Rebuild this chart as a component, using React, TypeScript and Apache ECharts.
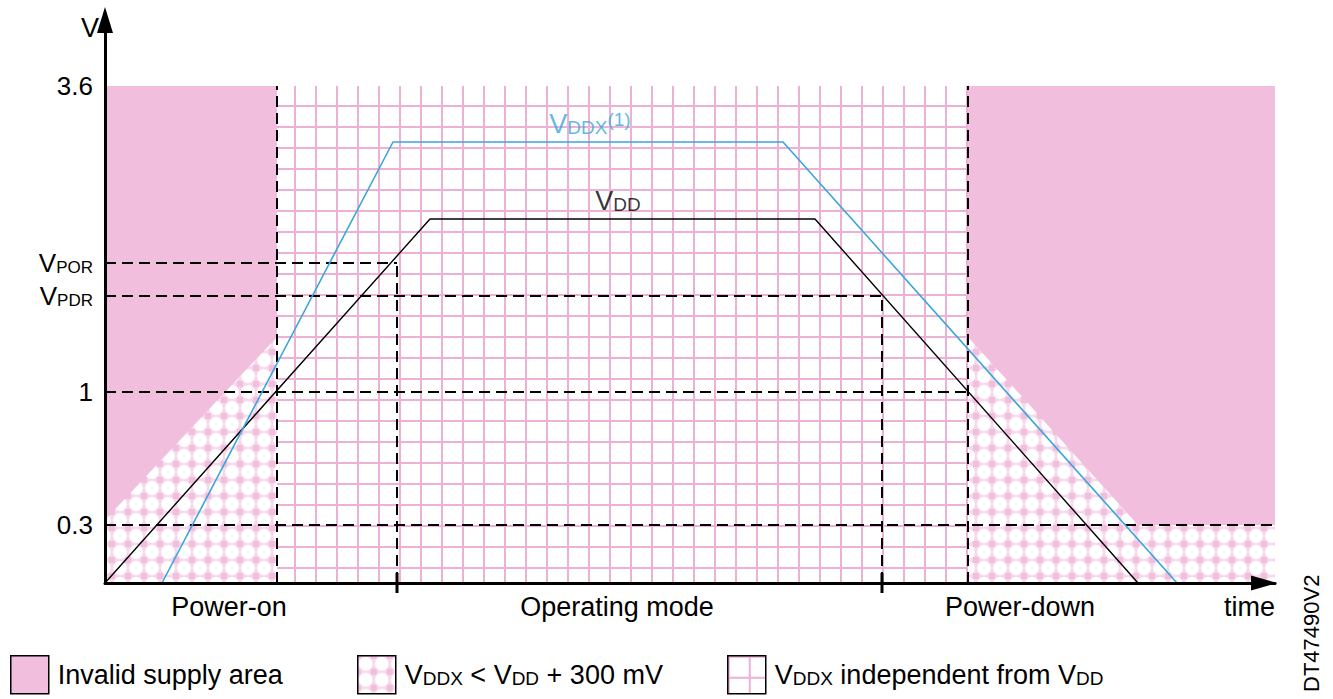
import React, { useEffect, useRef } from 'react';
import * as echarts from 'echarts';

// ---- schematic data (time units / level units above the time axis) ----
const X_MAX = 1170;
const Y_MAX = 563;

const yTickValues = [58, 191, 287, 320, 497];
const yTickLabels = ['0.3', '1', '{v|V}{s|PDR}', '{v|V}{s|POR}', '3.6'];

const phaseCenters = [124, 512, 915];
const phaseLabels = ['Power-on', 'Operating mode', 'Power-down'];

const vddPoints = [[0, 0], [325, 364], [710, 364], [1033, 0]];
const vddxPoints = [[57, 0], [288, 441], [678, 441], [1072, 0]];

const invalidLeft = [[0, 497], [172, 497]];
const invalidRight = [[863, 497], [1170, 497]];
const lowMarginLeft = [[0, 63], [172, 246]];
const lowMarginRight = [[863, 246], [1033, 58], [1170, 58]];
const independent = [[172, 497], [863, 497]];

const dashedSegments = [
  [[172, 0], [172, 497]],
  [[863, 0], [863, 497]],
  [[292, 0], [292, 320]],
  [[777, 0], [777, 287]],
  [[0, 320], [292, 320]],
  [[0, 287], [777, 287]],
  [[0, 191], [863, 191]],
  [[0, 58], [1170, 58]],
];
const tickMarks = [
  [[292, -10], [292, 10]],
  [[777, -10], [777, 10]],
];

const vddxLabelAt = [[485, 441]];
const vddLabelAt = [[513, 364]];

const NAME_INVALID = 'Invalid supply area';
const NAME_LOW = 'VDDX < VDD + 300 mV';
const NAME_INDEP = 'VDDX independent from VDD';

const PINK = '#F2BEDD';
const GRID_PINK = '#EDB1D5';
const BLUE = '#3AA6DB';
const FONT = "'Liberation Sans', Arial, Helvetica, sans-serif";

const svgUrl = (s: string) => 'data:image/svg+xml;charset=utf-8,' + encodeURIComponent(s);

const gridTile = svgUrl(
  `<svg xmlns='http://www.w3.org/2000/svg' width='21' height='21'>` +
    `<rect x='0' y='0' width='2' height='21' fill='${GRID_PINK}'/>` +
    `<rect x='0' y='0' width='21' height='2' fill='${GRID_PINK}'/>` +
    `</svg>`
);
const hatchTile = svgUrl(
  `<svg xmlns='http://www.w3.org/2000/svg' width='16' height='16'>` +
    `<rect x='0' y='0' width='16' height='16' fill='#F8D7EA'/>` +
    `<rect x='-3' y='-3' width='6' height='6' fill='${PINK}'/>` +
    `<rect x='13' y='-3' width='6' height='6' fill='${PINK}'/>` +
    `<rect x='-3' y='13' width='6' height='6' fill='${PINK}'/>` +
    `<rect x='13' y='13' width='6' height='6' fill='${PINK}'/>` +
    `<circle cx='8' cy='8' r='6.9' fill='#FFFFFF'/>` +
    `</svg>`
);

const gridPattern: any = { image: gridTile, repeat: 'repeat', imageWidth: 21, imageHeight: 21, x: 5, y: 4 };
const hatchPattern: any = { image: hatchTile, repeat: 'repeat', imageWidth: 16, imageHeight: 16, x: 0, y: 0 };

const richText = {
  v: { fontSize: 27, fontFamily: FONT },
  s: { fontSize: 19, fontFamily: FONT, verticalAlign: 'bottom' },
  p: { fontSize: 19, fontFamily: FONT, verticalAlign: 'top' },
};
const tickRich = {
  v: { fontSize: 26, fontFamily: FONT },
  s: { fontSize: 17, fontFamily: FONT, verticalAlign: 'bottom' },
};

const legendText: Record<string, string> = {
  [NAME_INVALID]: '{v|Invalid supply area}',
  [NAME_LOW]: '{v|V}{s|DDX}{v| < V}{s|DD}{v| + 300 mV}',
  [NAME_INDEP]: '{v|V}{s|DDX}{v| independent from V}{s|DD}',
};

function pickLabel(values: number[], labels: string[], v: number) {
  const i = values.findIndex((x) => Math.abs(x - v) < 0.5);
  return i >= 0 ? labels[i] : '';
}

function areaSeries(name: string, data: number[][], fill: any) {
  return {
    type: 'line',
    name,
    data,
    symbol: 'none',
    silent: true,
    lineStyle: { width: 0, color: PINK },
    itemStyle: { color: PINK },
    areaStyle: { color: fill, opacity: 1 },
    z: 1,
  };
}

function legendFor(name: string, left: number, fill: any) {
  return {
    data: [{ name, icon: 'rect', itemStyle: { color: fill, borderColor: '#000', borderWidth: 1.5 } }],
    left,
    top: 655,
    padding: 0,
    itemWidth: 38,
    itemHeight: 38,
    selectedMode: false,
    formatter: (n: string) => legendText[n],
    textStyle: { fontSize: 27, color: '#000', fontFamily: FONT, padding: [0, 0, 0, 4], rich: richText },
  };
}

export default function App() {
  const ref = useRef<HTMLDivElement>(null);
  useEffect(() => {
    if (!ref.current) return;
    const chart = echarts.init(ref.current, null, { renderer: 'svg' });
    const option: any = {
      animation: false,
      backgroundColor: '#fff',
      textStyle: { fontFamily: FONT },
      grid: { left: 105, right: 58, top: 20, bottom: 116, containLabel: false, outerBoundsMode: 'none' },
      xAxis: {
        type: 'value',
        min: 0,
        max: X_MAX,
        z: 10,
        axisLine: {
          show: true,
          lineStyle: { color: '#000', width: 3 },
          symbol: ['none', 'triangle'],
          symbolSize: [15, 26],
          symbolOffset: [0, -11],
        },
        axisTick: { show: false },
        splitLine: { show: false },
        axisLabel: {
          customValues: phaseCenters,
          formatter: (v: number) => pickLabel(phaseCenters, phaseLabels, v),
          fontSize: 27,
          color: '#000',
          margin: 10,
          fontFamily: FONT,
        },
        name: 'time',
        nameLocation: 'end',
        nameGap: 0,
        nameTextStyle: { fontSize: 27, color: '#000', align: 'right', verticalAlign: 'top', padding: [10, 0, 0, 0], fontFamily: FONT },
      },
      yAxis: {
        type: 'value',
        min: 0,
        max: Y_MAX,
        z: 10,
        axisLine: {
          show: true,
          lineStyle: { color: '#000', width: 3 },
          symbol: ['none', 'triangle'],
          symbolSize: [16, 26],
        },
        axisTick: { show: false },
        splitLine: { show: false },
        axisLabel: {
          customValues: yTickValues,
          formatter: (v: number) => pickLabel(yTickValues, yTickLabels, v),
          fontSize: 26,
          color: '#000',
          margin: 12,
          fontFamily: FONT,
          rich: tickRich,
        },
        name: 'V',
        nameLocation: 'end',
        nameGap: -8,
        nameTextStyle: { fontSize: 27, color: '#000', align: 'right', verticalAlign: 'middle', padding: [0, 6, 0, 0], fontFamily: FONT },
      },
      legend: [
        legendFor(NAME_INVALID, 10, PINK),
        legendFor(NAME_LOW, 357, hatchPattern),
        legendFor(NAME_INDEP, 727, gridPattern),
      ],
      graphic: [
        {
          type: 'text',
          x: 1300,
          y: 692,
          rotation: Math.PI / 2,
          style: { text: 'DT47490V2', font: `22px ${FONT}`, fill: '#000', textAlign: 'left', textVerticalAlign: 'top' },
        },
      ],
      series: [
        areaSeries(NAME_INDEP, independent, gridPattern),
        areaSeries(NAME_INVALID, invalidLeft, PINK),
        areaSeries(NAME_INVALID, invalidRight, PINK),
        areaSeries(NAME_LOW, lowMarginLeft, hatchPattern),
        areaSeries(NAME_LOW, lowMarginRight, hatchPattern),
        ...dashedSegments.map((seg) => ({
          type: 'line',
          data: seg,
          symbol: 'none',
          silent: true,
          lineStyle: { color: '#000', width: 2, type: [11, 6] },
          z: 3,
        })),
        {
          type: 'line',
          name: 'VDD',
          data: vddPoints,
          symbol: 'none',
          silent: true,
          lineStyle: { color: '#000', width: 1.4 },
          z: 4,
        },
        {
          type: 'line',
          name: 'VDDX',
          data: vddxPoints,
          symbol: 'none',
          silent: true,
          lineStyle: { color: BLUE, width: 1.6 },
          z: 4,
        },
        ...tickMarks.map((seg) => ({
          type: 'line',
          data: seg,
          symbol: 'none',
          silent: true,
          clip: false,
          lineStyle: { color: '#000', width: 3 },
          z: 5,
        })),
        {
          type: 'scatter',
          data: vddxLabelAt,
          symbolSize: 0,
          silent: true,
          label: {
            show: true,
            position: 'top',
            distance: 5,
            color: BLUE,
            formatter: '{v|V}{s|DDX}{p|(1)}',
            rich: richText,
          },
          z: 6,
        },
        {
          type: 'scatter',
          data: vddLabelAt,
          symbolSize: 0,
          silent: true,
          label: {
            show: true,
            position: 'top',
            distance: 5,
            color: '#000',
            formatter: '{v|V}{s|DD}',
            rich: richText,
          },
          z: 6,
        },
      ],
    };
    chart.setOption(option);
    return () => chart.dispose();
  }, []);
  return <div ref={ref} style={{ position: 'fixed', left: 0, top: 0, width: 1333, height: 699 }} />;
}
